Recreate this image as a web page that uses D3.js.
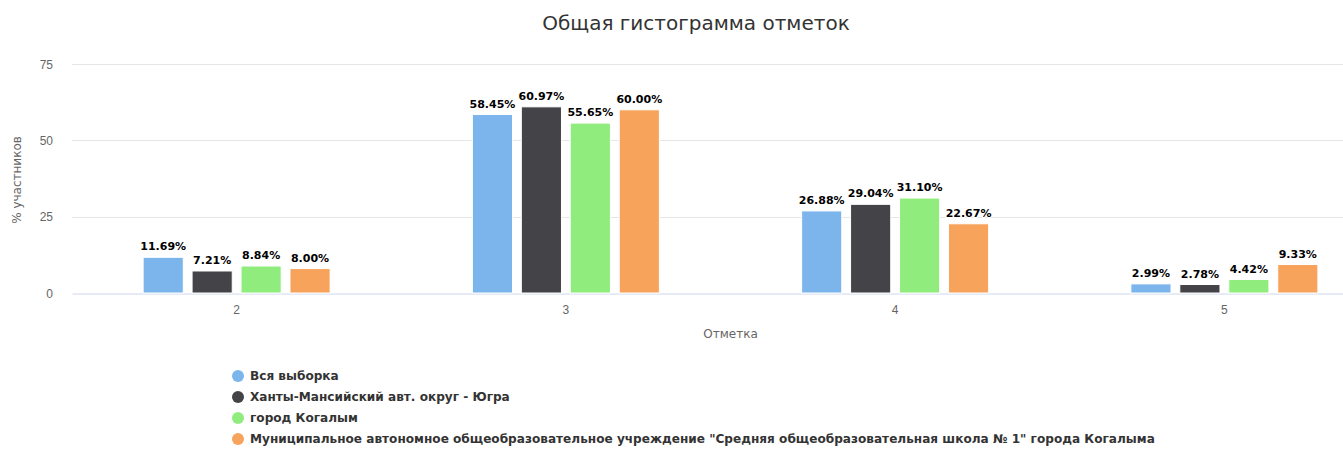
<!DOCTYPE html>
<html>
<head>
<meta charset="utf-8">
<script src="https://cdn.jsdelivr.net/npm/d3@7"></script>
<style>
  body { margin: 0; background: #fff; }
  svg { font-family: "DejaVu Sans", Verdana, sans-serif; display: block; }
</style>
</head>
<body>
<svg id="chart" width="1343" height="450"></svg>
<script>
// data
var categories = ["2", "3", "4", "5"];
var seriesNames = [
  "Вся выборка",
  "Ханты-Мансийский авт. округ - Югра",
  "город Когалым",
  "Муниципальное автономное общеобразовательное учреждение \"Средняя общеобразовательная школа № 1\" города Когалыма"
];
var allSample = [11.69, 58.45, 26.88, 2.99];
var hmao = [7.21, 60.97, 29.04, 2.78];
var kogalym = [8.84, 55.65, 31.10, 4.42];
var school = [8.00, 60.00, 22.67, 9.33];
var yTicks = [0, 25, 50, 75];
var colors = ["#7cb5ec", "#434348", "#90ed7d", "#f7a35c"];

var seriesValues = [allSample, hmao, kogalym, school];

var svg = d3.select("#chart");

// plot area (the original chart is a bit wider than the picture, so it is clipped on the right)
var plotLeft = 72, plotRight = 1389, plotTop = 64, plotBottom = 293;

var x0 = d3.scaleBand()
  .domain(categories)
  .range([plotLeft, plotRight])
  .padding(0);

var groupWidth = 187;
var x1 = d3.scaleBand()
  .domain(d3.range(seriesNames.length))
  .range([0, groupWidth])
  .paddingInner(0.18);

var y = d3.scaleLinear()
  .domain([0, 75])
  .range([plotBottom, plotTop]);

// title
svg.append("text")
  .attr("x", 696)
  .attr("y", 30)
  .attr("text-anchor", "middle")
  .style("font-size", "20px")
  .style("fill", "#333333")
  .text("Общая гистограмма отметок");

// grid
svg.append("g")
  .selectAll("line")
  .data(yTicks.filter(function(d) { return d > 0; }))
  .enter().append("line")
  .attr("x1", plotLeft)
  .attr("x2", plotRight)
  .attr("y1", function(d) { return Math.round(y(d)) + 0.5; })
  .attr("y2", function(d) { return Math.round(y(d)) + 0.5; })
  .attr("stroke", "#e6e6e6")
  .attr("stroke-width", 1);

// y axis labels
var yAxis = d3.axisLeft(y).tickValues(yTicks).tickSize(0).tickPadding(0);
var gy = svg.append("g")
  .attr("transform", "translate(" + 53 + ",0)")
  .call(yAxis);
gy.select(".domain").remove();
gy.selectAll("text")
  .attr("fill", "#666666")
  .style("font-size", "12px")
  .attr("dy", "0.35em");

svg.append("text")
  .attr("transform", "translate(21," + 180 + ") rotate(-90)")
  .attr("text-anchor", "middle")
  .style("font-size", "12px")
  .style("fill", "#666666")
  .text("% участников");

// x axis
var xAxis = d3.axisBottom(x0).tickSize(0).tickPadding(12);
var gx = svg.append("g")
  .attr("transform", "translate(0," + plotBottom + ")")
  .call(xAxis);
gx.select(".domain")
  .attr("stroke", "#ccd6eb")
  .attr("transform", "translate(0,0.5)");
gx.selectAll("text")
  .attr("fill", "#666666")
  .style("font-size", "12px");

svg.append("text")
  .attr("x", (plotLeft + plotRight) / 2)
  .attr("y", 338)
  .attr("text-anchor", "middle")
  .style("font-size", "12px")
  .style("fill", "#666666")
  .text("Отметка");

// bars
var groups = svg.append("g")
  .selectAll("g")
  .data(categories)
  .enter().append("g")
  .attr("transform", function(d) {
    return "translate(" + (x0(d) + x0.bandwidth() / 2 - groupWidth / 2) + ",0)";
  });

var cells = groups.selectAll(".bar")
  .data(function(d, i) {
    return seriesValues.map(function(s, j) { return { s: j, v: s[i] }; });
  })
  .enter();

cells.append("rect")
  .attr("class", "bar")
  .attr("x", function(d) { return x1(d.s); })
  .attr("y", function(d) { return y(d.v); })
  .attr("width", x1.bandwidth())
  .attr("height", function(d) { return plotBottom - y(d.v); })
  .attr("fill", function(d) { return colors[d.s]; })
  .attr("stroke", "#ffffff")
  .attr("stroke-width", 1);

cells.append("text")
  .attr("x", function(d) { return x1(d.s) + x1.bandwidth() / 2; })
  .attr("y", function(d) { return y(d.v) - 7; })
  .attr("text-anchor", "middle")
  .style("font-size", "11px")
  .style("font-weight", "bold")
  .style("fill", "#000000")
  .style("stroke", "#ffffff")
  .style("stroke-width", "2px")
  .style("paint-order", "stroke")
  .style("stroke-linejoin", "round")
  .text(function(d) { return d.v.toFixed(2) + "%"; });

// legend
var legend = svg.append("g")
  .selectAll("g")
  .data(seriesNames)
  .enter().append("g")
  .attr("transform", function(d, i) { return "translate(238," + (376 + i * 21) + ")"; });

legend.append("circle")
  .attr("r", 6)
  .attr("fill", function(d, i) { return colors[i]; });

legend.append("text")
  .attr("x", 12)
  .attr("dy", "0.35em")
  .style("font-size", "12.1px")
  .style("font-weight", "bold")
  .style("fill", "#333333")
  .text(function(d) { return d; });
</script>
</body>
</html>
